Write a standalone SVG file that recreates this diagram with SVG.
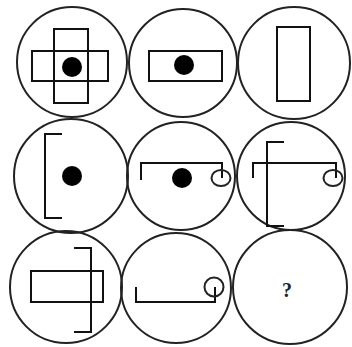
<svg xmlns="http://www.w3.org/2000/svg" width="352" height="347" viewBox="0 0 352 347">
<style>
.c{fill:none;stroke:#222;stroke-width:2}
.l{fill:none;stroke:#111;stroke-width:2}
.d{fill:#000}
.q{font-family:"Liberation Serif",serif;font-weight:bold;font-size:20px;fill:#222;text-anchor:middle}
</style>
<rect width="352" height="347" fill="#fff"/>
<g id="n1">
<circle class="c" cx="72" cy="62" r="55"/>
<rect class="l" x="32" y="51" width="76" height="30"/>
<rect class="l" x="54" y="29" width="34" height="74"/>
<circle class="d" cx="72" cy="67" r="10"/>
</g>
<g id="n2">
<circle class="c" cx="183" cy="63" r="54"/>
<rect class="l" x="149" y="51" width="73" height="30"/>
<circle class="d" cx="184" cy="65" r="10"/>
</g>
<g id="n3">
<circle class="c" cx="294" cy="63" r="56"/>
<rect class="l" x="277" y="27" width="33" height="74"/>
</g>
<g id="n4">
<circle class="c" cx="71" cy="176" r="57"/>
<polyline class="l" points="62,134 45,134 45,218 62,218"/>
<circle class="d" cx="72" cy="176" r="10"/>
</g>
<g id="n5">
<circle class="c" cx="181" cy="176" r="54"/>
<polyline class="l" points="141,180 141,163 222,163 222,178"/>
<ellipse class="c" cx="221" cy="178" rx="9.5" ry="8"/>
<circle class="d" cx="182" cy="178" r="10"/>
</g>
<g id="n6">
<circle class="c" cx="291" cy="176" r="54"/>
<polyline class="l" points="284,142 267,142 267,226 284,226"/>
<polyline class="l" points="253,178 253,163 336,163 336,178"/>
<ellipse class="c" cx="333" cy="178" rx="9.5" ry="8"/>
</g>
<g id="n7">
<circle class="c" cx="66" cy="287" r="56"/>
<rect class="l" x="31" y="271" width="72" height="31"/>
<polyline class="l" points="74,248 91,248 91,332 74,332"/>
</g>
<g id="n8">
<circle class="c" cx="176" cy="288" r="55"/>
<polyline class="l" points="136,287 136,302 215,302 215,287"/>
<circle class="c" cx="214" cy="287" r="9.5"/>
</g>
<g id="n9">
<circle class="c" cx="290" cy="287" r="57"/>
<text class="q" x="287" y="297">?</text>
</g>
<g id="connectors"/>
</svg>
